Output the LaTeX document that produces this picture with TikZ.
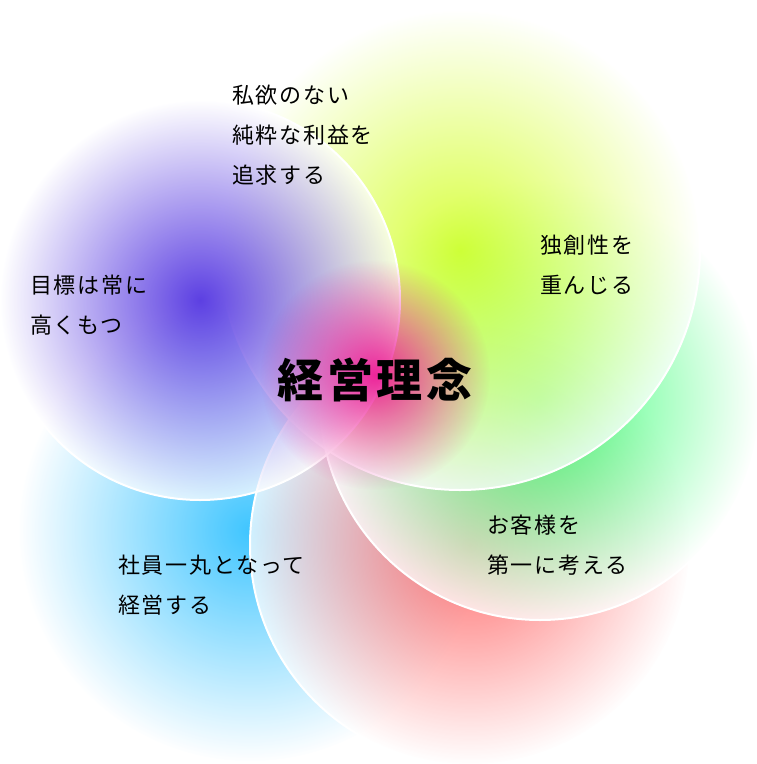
\documentclass[tikz,border=0pt]{standalone}
\usepackage{fontspec}
\usetikzlibrary{fadings}
\tikzfading[name=glow, inner color=transparent!15, outer color=transparent!100]
\newfontfamily\jp{Noto Sans CJK JP}[LetterSpace=8]
\begin{document}
\begin{tikzpicture}[x=1pt,y=-1pt,
  lbl/.style={anchor=north west,align=left,font=\jp\fontsize{22}{40}\selectfont,inner sep=0pt},
  petal/.style={fill opacity=0.75,draw=white,line width=2pt}]
\useasboundingbox[fill=white] (0,0) rectangle (757,764);
\shade[petal,inner color=cyan!70!blue,outer color=white] (250,530) circle (232);
\shade[petal,inner color=red!75,outer color=white] (470,545) circle (220);
\shade[petal,inner color=green!70!cyan,outer color=white] (540,400) circle (220);
\shade[petal,inner color=lime!80!yellow,outer color=white] (460,250) circle (240);
\shade[petal,inner color=blue!70!violet,outer color=white] (200,300) circle (200);
\fill[magenta,path fading=glow] (375,375) circle (115);
\node[font=\jp\fontsize{46}{50}\selectfont\bfseries] (t) at (375,380) {経営理念};
\node[lbl] (a) at (232,85) {私欲のない\\純粋な利益を\\追求する};
\node[lbl] (b) at (540,235) {独創性を\\重んじる};
\node[lbl] (c) at (30,275) {目標は常に\\高くもつ};
\node[lbl] (d) at (487,515) {お客様を\\第一に考える};
\node[lbl] (e) at (118,555) {社員一丸となって\\経営する};
\end{tikzpicture}
\end{document}
